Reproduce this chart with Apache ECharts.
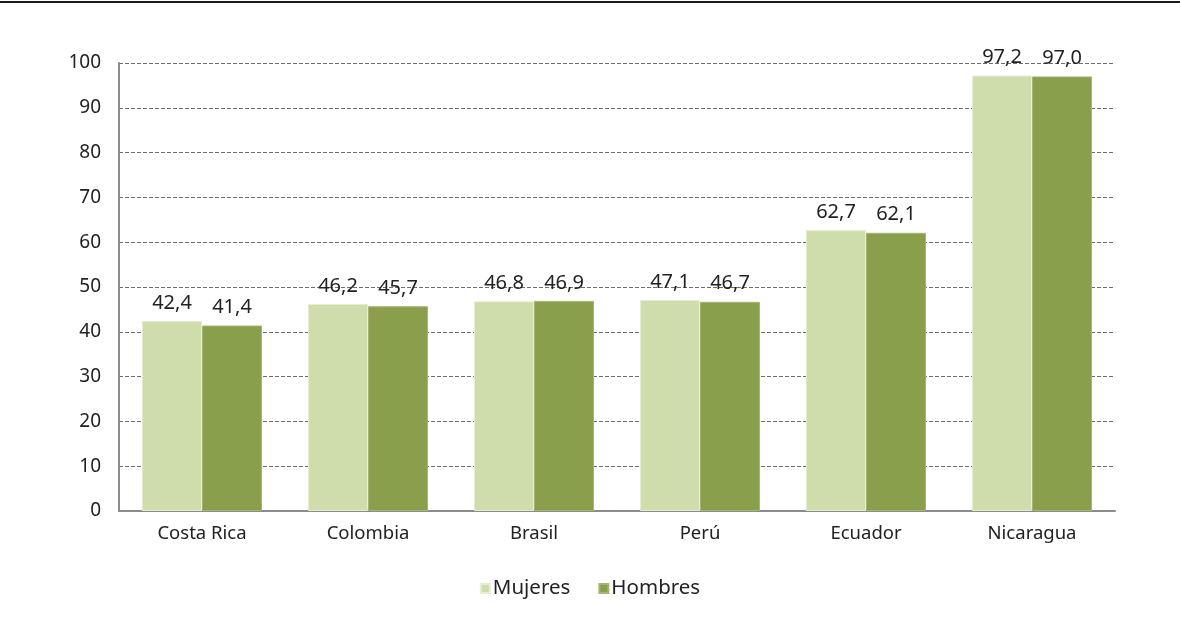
<!DOCTYPE html>
<html>
<head>
<meta charset="utf-8">
<script src="https://cdn.jsdelivr.net/npm/echarts@6/dist/echarts.min.js"></script>
<style>
  html, body { margin: 0; padding: 0; background: #fff; }
  #chart { width: 1180px; height: 634px; }
</style>
</head>
<body>
<div id="chart"></div>
<script>
var categories = ["Costa Rica", "Colombia", "Brasil", "Perú", "Ecuador", "Nicaragua"];
var mujeres = [42.4, 46.2, 46.8, 47.1, 62.7, 97.2];
var hombres = [41.4, 45.7, 46.9, 46.7, 62.1, 97.0];
var yTicks = [0, 10, 20, 30, 40, 50, 60, 70, 80, 90, 100];

var font = "Noto Sans";

function fmt(p) {
    return p.value.toFixed(1).replace(".", ",");
}

var chart = echarts.init(document.getElementById("chart"));
chart.setOption({
    animation: false,
    textStyle: { fontFamily: font },
    graphic: [{
        type: "rect",
        shape: { x: 0, y: 1, width: 1180, height: 2 },
        style: { fill: "#1a1a1a" }
    }],
    grid: { left: 119, right: 65, top: 63, bottom: 123 },
    legend: {
        top: 573,
        left: "center",
        itemWidth: 9,
        itemHeight: 9,
        itemGap: 28,
        icon: "rect",
        textStyle: { fontSize: 20.5, color: "#222", fontFamily: font, padding: [9, 0, 0, -2] },
        data: ["Mujeres", "Hombres"]
    },
    xAxis: {
        type: "category",
        data: categories,
        axisLine: { lineStyle: { color: "#8c8c8c", width: 2 } },
        axisTick: { show: false },
        axisLabel: { fontSize: 18.5, color: "#222", margin: 13, fontFamily: font }
    },
    yAxis: {
        type: "value",
        min: yTicks[0],
        max: yTicks[yTicks.length - 1],
        interval: 10,
        axisLine: { show: true, lineStyle: { color: "#8c8c8c", width: 2 } },
        axisTick: { show: false },
        axisLabel: { fontSize: 19, color: "#222", margin: 18, fontFamily: font },
        splitLine: { lineStyle: { color: "#6e6e6e", type: [4, 2], width: 1 } }
    },
    series: [{
        name: "Mujeres",
        type: "bar",
        data: mujeres,
        barGap: "0%",
        barCategoryGap: "27.7%",
        itemStyle: { color: "#cfdcab", borderColor: "#e6eed0", borderWidth: 1 },
        label: { show: true, position: "top", distance: 8, fontSize: 20, color: "#222", formatter: fmt, fontFamily: font }
    }, {
        name: "Hombres",
        type: "bar",
        data: hombres,
        itemStyle: { color: "#8a9f4c", borderColor: "#a4b574", borderWidth: 1 },
        label: { show: true, position: "top", distance: 8, fontSize: 20, color: "#222", formatter: fmt, fontFamily: font }
    }]
});
</script>
</body>
</html>
